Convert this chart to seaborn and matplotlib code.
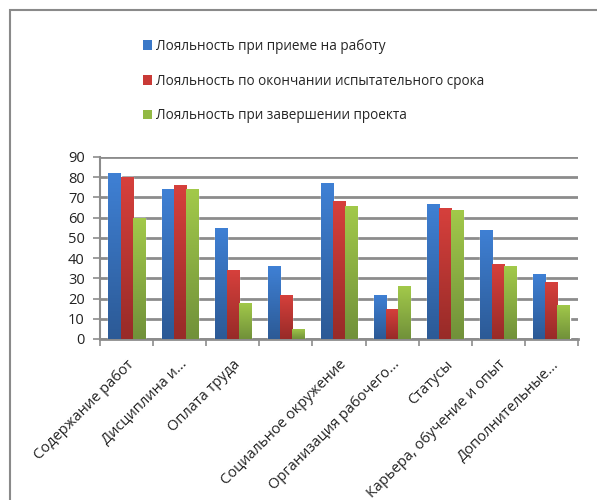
import numpy as np
import pandas as pd
import matplotlib
matplotlib.use("Agg")
import matplotlib.pyplot as plt
import matplotlib.transforms as mtransforms
import seaborn as sns
from matplotlib.patches import Rectangle, Patch
from matplotlib.colors import LinearSegmentedColormap

categories = ["Содержание работ", "Дисциплина и...", "Оплата труда", " ",
              "Социальное окружение", "Организация рабочего...", "Статусы",
              "Карьера, обучение и опыт", "Дополнительные..."]
series = ["Лояльность при приеме на работу",
          "Лояльность по окончании испытательного срока",
          "Лояльность при завершении проекта"]
hire = [82, 74, 55, 36, 77, 22, 67, 54, 32]
probation = [80, 76, 34, 22, 68, 15, 65, 37, 28]
project = [60, 74, 18, 5, 66, 26, 64, 36, 17]
yticks = [0, 10, 20, 30, 40, 50, 60, 70, 80, 90]

colors = ["#3a78c8", "#c93a36", "#92b944"]
grad = [("#2c5a96", "#3f80d4"), ("#982b28", "#d6403c"), ("#71913a", "#a2c94a")]

df = pd.DataFrame({
    "cat": categories * 3,
    "series": [series[0]] * 9 + [series[1]] * 9 + [series[2]] * 9,
    "val": hire + probation + project,
})

sns.set_theme(style="white")
plt.rcParams["font.family"] = ["Open Sans", "DejaVu Sans"]

fig = plt.figure(figsize=(5.97, 5.0), dpi=100)
ax = fig.add_axes([100 / 597, 1 - 339 / 500, 478 / 597, 182 / 500])

sns.barplot(data=df, x="cat", y="val", hue="series", order=categories,
            hue_order=series, palette=colors, width=0.68, saturation=1,
            ax=ax, legend=False, zorder=3)

# vertical gradient on bars
for i, cont in enumerate(ax.containers):
    cmap = LinearSegmentedColormap.from_list("g%d" % i, [grad[i][0], grad[i][1]])
    for p in cont:
        x0, y0 = p.get_x(), p.get_y()
        w, h = p.get_width(), p.get_height()
        if h <= 0:
            continue
        g = np.linspace(0, 1, 64).reshape(-1, 1)
        im = ax.imshow(g, cmap=cmap, origin="lower", aspect="auto",
                       extent=[x0, x0 + w, y0, y0 + h], zorder=4)
        im.set_clip_path(p)

ax.set_xlim(-0.5, len(categories) - 0.5)
ax.set_ylim(0, 90)
ax.set_yticks(yticks)
ax.set_yticklabels([str(t) for t in yticks], fontsize=10.5, color="#222222")
ax.yaxis.grid(True, color="#8c8c8c", linewidth=2, zorder=0)
ax.set_axisbelow(True)
ax.set_xlabel("")
ax.set_ylabel("")

ax.set_xticks(range(len(categories)))
ax.set_xticklabels(categories, rotation=45, ha="right", rotation_mode="anchor",
                   fontsize=10.5, color="#222222")
offset = mtransforms.ScaledTranslation(4 / 100, 0, fig.dpi_scale_trans)
for lbl in ax.get_xticklabels():
    lbl.set_transform(lbl.get_transform() + offset)
ax.set_xticks(np.arange(-0.5, len(categories)), minor=True)
ax.tick_params(axis="x", which="major", length=0, pad=13)
ax.tick_params(axis="x", which="minor", length=5, width=1.2, color="#8c8c8c", bottom=True)
ax.tick_params(axis="y", length=5, width=1.2, color="#8c8c8c", left=True, pad=6)

for s in ["top", "right"]:
    ax.spines[s].set_visible(False)
ax.spines["left"].set_color("#8c8c8c")
ax.spines["left"].set_linewidth(1.5)
ax.spines["bottom"].set_color("#8c8c8c")
ax.spines["bottom"].set_linewidth(2)

handles = [Patch(facecolor=c, edgecolor="none") for c in colors]
fig.legend(handles, series, loc="upper left",
           bbox_to_anchor=(136 / 597, 1 - 32 / 500), frameon=False,
           fontsize=9.8, handlelength=0.7, handleheight=0.7,
           handletextpad=0.3, labelspacing=1.45, borderpad=0)

fig.add_artist(Rectangle((10 / 597, -0.1), 1.2, 1.1 - 10 / 500,
                         transform=fig.transFigure, fill=False,
                         edgecolor="#8a8a8a", linewidth=1.5))

fig.savefig("out.png", dpi=100, facecolor="white")
